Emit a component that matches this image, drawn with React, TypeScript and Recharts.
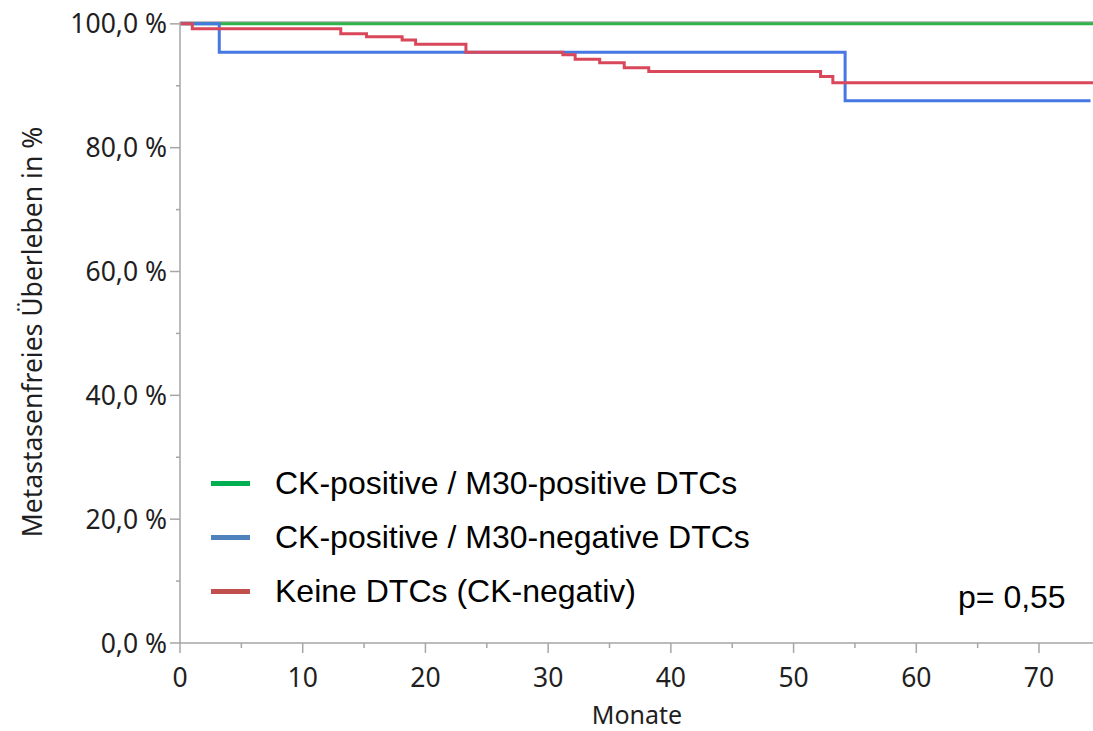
import React from "react";
import { LineChart, Line, XAxis, YAxis, ReferenceLine } from "recharts";

// Kaplan-Meier steps (months, % metastasis-free)
const greenMonths = [0, 74.4];
const greenValues = [100, 100];

const blueMonths = [0, 3.2, 54.2, 74.2];
const blueValues = [100, 95.4, 87.6, 87.6];

const redMonths = [0, 1.0, 13.1, 15.2, 18.1, 19.2, 23.3, 31.2, 32.2, 34.2, 36.2, 38.2, 52.2, 53.2, 74.4];
const redValues = [100, 99.2, 98.4, 97.9, 97.4, 96.7, 95.4, 95.0, 94.3, 93.7, 92.9, 92.3, 91.5, 90.5, 90.5];

const xTicks = [0, 5, 10, 15, 20, 25, 30, 35, 40, 45, 50, 55, 60, 65, 70];
const yTicks = [0, 10, 20, 30, 40, 50, 60, 70, 80, 90, 100];

const seriesNames = [
    "CK-positive / M30-positive DTCs",
    "CK-positive / M30-negative DTCs",
    "Keine DTCs (CK-negativ)",
];
const legendColors = ["#00b050", "#4f81bd", "#c0504d"];
const lineColors = ["#2db34a", "#4677e3", "#d9485a"];

const toRows = (months: number[], values: number[]) =>
    months.map((t, i) => ({ t, v: values[i] }));

const AXIS = "#a6a6a6";
const TEXT = "#1f1f1f";
const TICK_FONT = "'Noto Sans', sans-serif";
const TICK_SIZE = 26.5;

const YTick = ({ x, y, payload }: any) => {
    const major = payload.value % 20 === 0;
    return (
        <g>
            <line x1={x - (major ? 10 : 4)} x2={x} y1={y} y2={y} stroke={AXIS} strokeWidth={1.5} />
            {major && (
                <text x={x - 13} y={y} dy="0.36em" textAnchor="end" fill={TEXT} fontSize={TICK_SIZE} fontFamily={TICK_FONT}>
                    {payload.value.toFixed(1).replace(".", ",")} %
                </text>
            )}
        </g>
    );
};

const XTick = ({ x, y, payload }: any) => {
    const major = payload.value % 10 === 0;
    return (
        <g>
            <line x1={x} x2={x} y1={y} y2={y + (major ? 10 : 5)} stroke={AXIS} strokeWidth={1.5} />
            {major && (
                <text x={x} y={y + 34} dy="0.36em" textAnchor="middle" fill={TEXT} fontSize={TICK_SIZE} fontFamily={TICK_FONT}>
                    {payload.value}
                </text>
            )}
        </g>
    );
};

export default function App() {
    const series = [
        toRows(greenMonths, greenValues),
        toRows(blueMonths, blueValues),
        toRows(redMonths, redValues),
    ];

    return (
        <div style={{ position: "absolute", left: 0, top: 0, width: 1093, height: 731, background: "#fff" }}>
            <LineChart width={1093} height={731} margin={{ top: 22, right: 0, bottom: 0, left: 0 }}>
                <XAxis
                    type="number"
                    dataKey="t"
                    domain={[0, 74.4]}
                    ticks={xTicks}
                    height={88}
                    stroke={AXIS}
                    strokeWidth={1.5}
                    tickLine={false}
                    tickSize={0}
                    tickMargin={0}
                    tick={<XTick />}
                    interval={0}
                    allowDataOverflow
                    label={() => (
                        <text x={637} y={715} dy="0.36em" textAnchor="middle" fill={TEXT} fontSize={25} fontFamily={TICK_FONT}>
                            Monate
                        </text>
                    )}
                />
                <YAxis
                    type="number"
                    domain={[0, 100.3]}
                    ticks={yTicks}
                    width={180}
                    stroke={AXIS}
                    strokeWidth={1.5}
                    tickLine={false}
                    tickSize={0}
                    tickMargin={0}
                    tick={<YTick />}
                    interval={0}
                    allowDataOverflow
                    label={() => (
                        <text
                            x={32}
                            y={332}
                            dy="0.36em"
                            textAnchor="middle"
                            transform="rotate(-90, 32, 332)"
                            fill={TEXT}
                            fontSize={TICK_SIZE}
                            fontFamily={TICK_FONT}
                        >
                            Metastasenfreies Überleben in %
                        </text>
                    )}
                />
                <ReferenceLine y={100.3} stroke={AXIS} strokeWidth={1.5} />
                {series.map((rows, i) => (
                    <Line
                        key={seriesNames[i]}
                        data={rows}
                        dataKey="v"
                        name={seriesNames[i]}
                        type="stepAfter"
                        stroke={lineColors[i]}
                        strokeWidth={3}
                        dot={false}
                        activeDot={false}
                        isAnimationActive={false}
                    />
                ))}
            </LineChart>

            {/* legend block, bottom left of the plot */}
            <div style={{ position: "absolute", left: 211, top: 456, fontFamily: "'Liberation Sans', Arial, sans-serif", fontSize: 32, color: "#000" }}>
                {seriesNames.map((name, i) => (
                    <div key={name} style={{ display: "flex", alignItems: "center", height: 54 }}>
                        <div style={{ width: 39, height: 5, background: legendColors[i], marginRight: 25 }} />
                        <span>{name}</span>
                    </div>
                ))}
            </div>

            <div style={{ position: "absolute", left: 958, top: 579, fontFamily: "'Liberation Sans', Arial, sans-serif", fontSize: 32, color: "#000" }}>
                p= 0,55
            </div>
        </div>
    );
}
